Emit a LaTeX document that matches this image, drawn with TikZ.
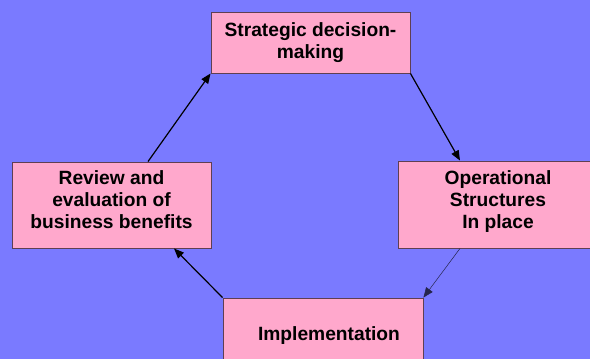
\documentclass[tikz,border=0pt]{standalone}
\usepackage{xcolor}
\usepackage{fontspec}
\setmainfont{Liberation Sans}
\usepackage{tikz}
\usetikzlibrary{arrows.meta,shapes,positioning,calc}

\definecolor{bgblue}{RGB}{122,122,255}
\definecolor{boxpink}{RGB}{255,168,204}
\definecolor{boxedge}{RGB}{95,63,82}

\tikzset{
    box/.style={draw=boxedge, line width=0.9pt, fill=boxpink, rectangle, align=center,
        minimum width=199pt, font=\bfseries\fontsize{19.2}{22}\selectfont, inner sep=0pt},
    flow/.style={-{Triangle[length=10pt,width=8pt]}, line width=1.2pt, black}
}

\begin{document}
\begin{tikzpicture}[x=1pt, y=-1pt]
    \fill[bgblue] (0,0) rectangle (590,359);
    \useasboundingbox (0,0) rectangle (590,359);

    \node[box, minimum height=61pt] (strategic) at (310.5,42.5) {Strategic decision-\\making};
    \node[box, minimum height=86pt, text depth=10pt] (review) at (111.5,205) {Review and\\evaluation of\\business benefits};
    \node[box, minimum height=87pt, minimum width=200pt, text depth=10pt] (operational) at (498,204.5) {Operational\\Structures\\In place};
    \node[box, minimum height=76pt, minimum width=200pt] (implementation) at (323,336) {\hspace*{12pt}Implementation};

    \draw[flow] ([xshift=36.5pt]review.north) -- (strategic.south west);
    \draw[flow] (strategic.south east) -- ([xshift=-38pt]operational.north);
    \draw[flow, line width=0.5pt, draw=black!70!bgblue] ([xshift=-38pt]operational.south) -- (implementation.north east);
    \draw[flow] (implementation.north west) -- ([xshift=62.5pt]review.south);
\end{tikzpicture}
\end{document}
